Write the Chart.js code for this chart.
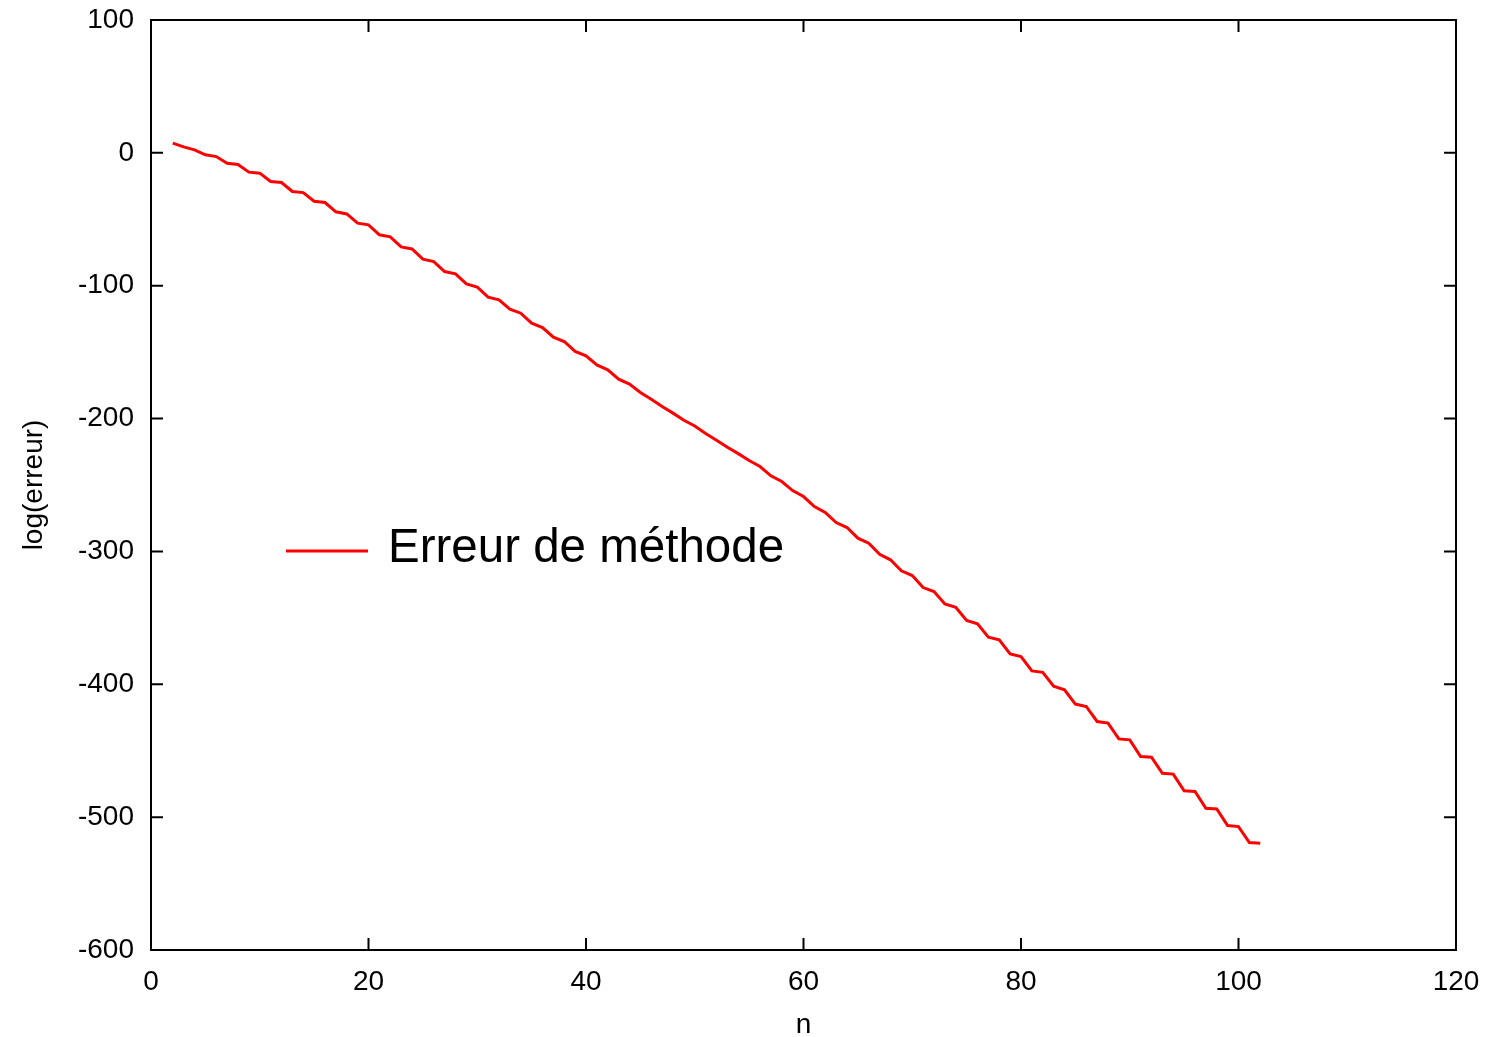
<!DOCTYPE html>
<html>
<head>
<meta charset="utf-8">
<script src="https://cdn.jsdelivr.net/npm/chart.js@4.4.1/dist/chart.umd.min.js"></script>
<style>
    body { margin: 0; background: white; }
    #wrap { width: 1492px; height: 1037px; }
</style>
</head>
<body>
<div id="wrap"><canvas id="graph" width="1492" height="1037"></canvas></div>
<script>
// Order of the method
const nValues = [
    2, 3, 4, 5, 6, 7, 8, 9, 10, 11, 12, 13, 14, 15, 16, 17, 18, 19, 20, 21,
    22, 23, 24, 25, 26, 27, 28, 29, 30, 31, 32, 33, 34, 35, 36, 37, 38, 39, 40, 41,
    42, 43, 44, 45, 46, 47, 48, 49, 50, 51, 52, 53, 54, 55, 56, 57, 58, 59, 60, 61,
    62, 63, 64, 65, 66, 67, 68, 69, 70, 71, 72, 73, 74, 75, 76, 77, 78, 79, 80, 81,
    82, 83, 84, 85, 86, 87, 88, 89, 90, 91, 92, 93, 94, 95, 96, 97, 98, 99, 100, 101,
    102
];

// log of the method error
const logErreur = [
    7.3, 4.5, 2.3, -1.5, -2.8, -7.8, -8.8, -14.5, -15.3, -21.6, -22.3, -29.1, -29.9, -36.4, -37.4, -44.4, -46.0, -52.9, -54.2, -61.7,
    -63.2, -70.8, -72.3, -80.0, -81.8, -89.3, -91.1, -98.6, -101.1, -108.6, -110.6, -117.7, -120.7, -128.2, -131.5, -138.7, -142.0, -149.5, -152.8, -159.6,
    -163.3, -170.3, -174.1, -180.4, -185.4, -190.9, -195.9, -201.3, -205.6, -211.2, -216.3, -221.6, -226.4, -231.6, -236.1, -243.1, -247.4, -254.2, -258.7, -266.2,
    -270.7, -278.3, -282.0, -290.0, -293.8, -302.1, -306.3, -314.6, -318.2, -327.2, -330.2, -339.5, -342.0, -352.0, -354.5, -364.5, -366.6, -377.1, -379.1, -389.9,
    -391.0, -401.5, -404.2, -414.9, -416.7, -428.0, -429.2, -441.1, -441.8, -454.4, -454.9, -467.0, -467.6, -480.2, -480.7, -493.3, -493.8, -506.3, -507.1, -519.1,
    -519.6
];

// Axis ranges and tick labels
const xTicks = [0, 20, 40, 60, 80, 100, 120];
const yTicks = [100, 0, -100, -200, -300, -400, -500, -600];
const seriesLabel = 'Erreur de méthode';

const fontFamily = "'Liberation Sans', Arial, sans-serif";

// Gnuplot style frame: box around the plot and inward ticks on every side
const framePlugin = {
    id: 'frame',
    afterDatasetsDraw(chart) {
        const ctx = chart.ctx;
        const area = chart.chartArea;
        const xs = chart.scales.x;
        const ys = chart.scales.y;
        const len = 12;
        ctx.save();
        ctx.strokeStyle = 'black';
        ctx.lineWidth = 2;
        ctx.beginPath();
        xTicks.forEach(v => {
            const px = xs.getPixelForValue(v);
            ctx.moveTo(px, area.bottom);
            ctx.lineTo(px, area.bottom - len);
            ctx.moveTo(px, area.top);
            ctx.lineTo(px, area.top + len);
        });
        yTicks.forEach(v => {
            const py = ys.getPixelForValue(v);
            ctx.moveTo(area.left, py);
            ctx.lineTo(area.left + len, py);
            ctx.moveTo(area.right, py);
            ctx.lineTo(area.right - len, py);
        });
        ctx.stroke();
        ctx.strokeRect(area.left, area.top, area.right - area.left, area.bottom - area.top);
        ctx.restore();
    }
};

// Legend drawn inside the plot, like the original
const keyPlugin = {
    id: 'key',
    afterDatasetsDraw(chart) {
        const ctx = chart.ctx;
        const area = chart.chartArea;
        const ds = chart.data.datasets[0];
        const y = area.top + 531;
        ctx.save();
        ctx.strokeStyle = ds.borderColor;
        ctx.lineWidth = 3;
        ctx.beginPath();
        ctx.moveTo(area.left + 135, y);
        ctx.lineTo(area.left + 217, y);
        ctx.stroke();
        ctx.fillStyle = 'black';
        ctx.font = '47.5px ' + fontFamily;
        ctx.textBaseline = 'alphabetic';
        ctx.textAlign = 'left';
        ctx.fillText(ds.label, area.left + 237, y + 11);
        ctx.restore();
    }
};

let ctx = document.getElementById('graph');

let lineChart = new Chart(ctx, {
    type: 'line',
    data: {
        datasets: [{
            label: seriesLabel,
            data: nValues.map((n, i) => ({ x: n, y: logErreur[i] })),
            borderColor: '#ff0000',
            borderWidth: 3,
            pointRadius: 0,
            tension: 0,
            fill: false
        }]
    },
    options: {
        responsive: false,
        animation: false,
        devicePixelRatio: 1,
        layout: {
            padding: { left: 0, right: 36, top: 20, bottom: 0 }
        },
        plugins: {
            legend: { display: false },
            tooltip: { enabled: false }
        },
        scales: {
            x: {
                type: 'linear',
                min: 0,
                max: 120,
                afterBuildTicks: scale => {
                    scale.ticks = xTicks.map(v => ({ value: v }));
                },
                afterFit: scale => {
                    scale.height = 87;
                    scale.paddingLeft = 0;
                    scale.paddingRight = 0;
                },
                grid: { display: false },
                border: { display: false },
                ticks: {
                    color: 'black',
                    padding: 7,
                    maxRotation: 0,
                    font: { family: fontFamily, size: 28 }
                },
                title: {
                    display: true,
                    text: 'n',
                    color: 'black',
                    padding: { top: 0, bottom: 0 },
                    font: { family: fontFamily, size: 28, lineHeight: 0.82 }
                }
            },
            y: {
                type: 'linear',
                min: -600,
                max: 100,
                afterBuildTicks: scale => {
                    scale.ticks = yTicks.map(v => ({ value: v }));
                },
                afterFit: scale => {
                    scale.width = 151;
                    scale.paddingTop = 0;
                    scale.paddingBottom = 0;
                },
                grid: { display: false },
                border: { display: false },
                ticks: {
                    color: 'black',
                    padding: 9,
                    font: { family: fontFamily, size: 28 }
                },
                title: {
                    display: true,
                    text: 'log(erreur)',
                    color: 'black',
                    padding: { top: 20, bottom: 0 },
                    font: { family: fontFamily, size: 28, lineHeight: 1 }
                }
            }
        }
    },
    plugins: [framePlugin, keyPlugin]
});
</script>
</body>
</html>
